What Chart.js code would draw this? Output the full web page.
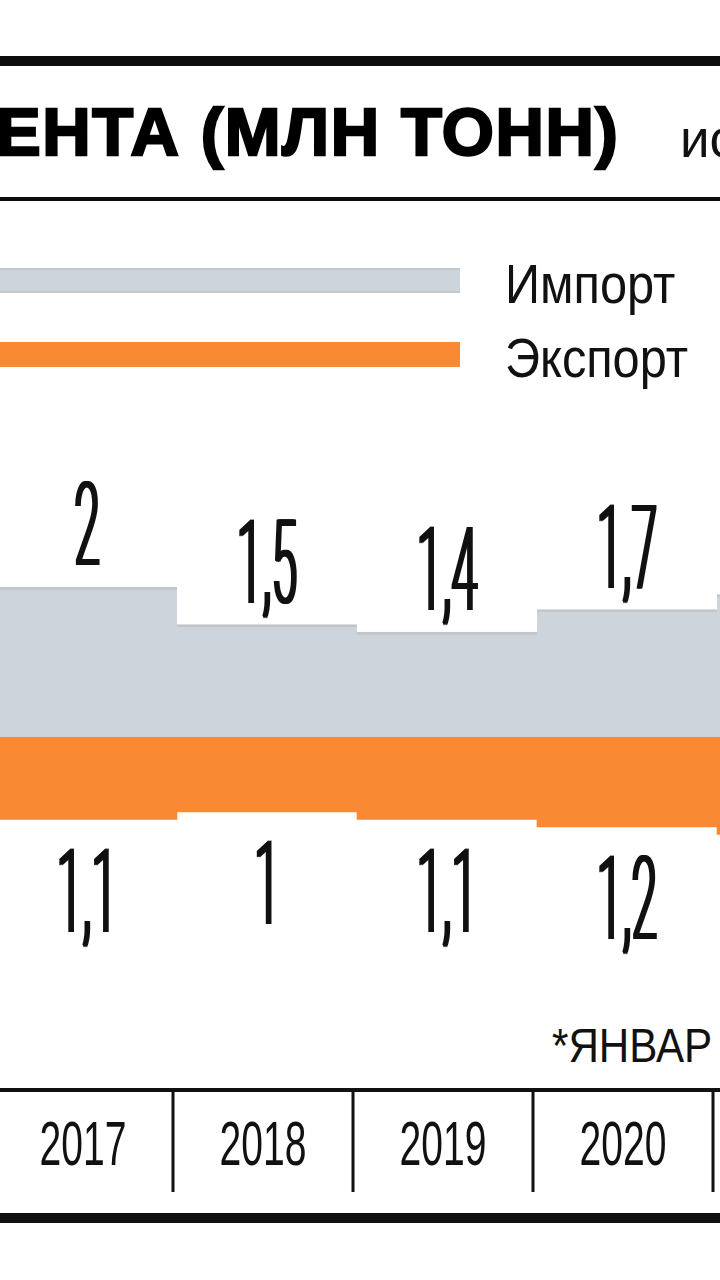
<!DOCTYPE html>
<html lang="ru">
<head>
<meta charset="UTF-8">
<title>Импорт и экспорт цемента</title>
<script src="https://cdn.jsdelivr.net/npm/chart.js"></script>
<style>
  html, body { margin: 0; padding: 0; background: #fff; }
  body {
    width: 720px; height: 1280px; position: relative; overflow: hidden;
    font-family: "Liberation Sans", Arial, sans-serif; color: #111;
  }
  .rule-thick { position: absolute; left: 0; top: 56px; width: 720px; height: 10px; background: #0d0d0d; }
  .rule-thin { position: absolute; left: 0; top: 197px; width: 720px; height: 4px; background: #0d0d0d; }
  .title {
    position: absolute; left: -4px; top: 98px; font-size: 67px; font-weight: bold;
    line-height: 1; white-space: nowrap; color: #000;
    -webkit-text-stroke: 2.4px #000; letter-spacing: 1.6px;
  }
  .source { position: absolute; left: 680px; top: 112px; font-size: 53px; line-height: 1; white-space: nowrap; }
  .legend-bar { position: absolute; left: 0; width: 460px; height: 25px; }
  .legend-label {
    position: absolute; left: 505px; font-size: 56px; line-height: 1;
    transform: scaleX(0.87); transform-origin: left top; white-space: nowrap;
  }
  .note {
    position: absolute; left: 552px; top: 1021px; font-size: 49px; line-height: 1;
    transform: scaleX(0.86); transform-origin: left top; white-space: nowrap;
  }
  #chartBox { position: absolute; left: -3px; top: 400px; width: 900px; height: 840px; }
</style>
</head>
<body>
  <div class="rule-thick"></div>
  <div class="title">ЕНТА (МЛН ТОНН)</div>
  <div class="source">ис</div>
  <div class="rule-thin"></div>
  <div id="legend"></div>
  <div class="note">*ЯНВАР</div>
  <div id="chartBox"><canvas id="cementChart" width="900" height="840"></canvas></div>

<script>
  const years = ['2017', '2018', '2019', '2020', '2021*'];
  const importVals = [2, 1.5, 1.4, 1.7, 1.9];
  const exportVals = [1.1, 1, 1.1, 1.2, 1.3];
  const seriesNames = ['Импорт', 'Экспорт'];
  const seriesColors = ['#cdd4db', '#f98a33'];

  // legend (HTML, long swatches like the print version)
  const legend = document.getElementById('legend');
  const legendTops = [268, 342];
  seriesNames.forEach((name, i) => {
    const bar = document.createElement('div');
    bar.className = 'legend-bar';
    bar.style.top = legendTops[i] + 'px';
    bar.style.background = seriesColors[i];
    if (i === 0) {
      bar.style.borderTop = '2px solid #c3c6cc';
      bar.style.borderBottom = '2px solid #c3c6cc';
      bar.style.height = '21px';
    }
    legend.appendChild(bar);
    const label = document.createElement('div');
    label.className = 'legend-label';
    label.style.top = (legendTops[i] - 12) + 'px';
    label.textContent = name;
    legend.appendChild(label);
  });

  // horizontally squeezed text; "smear" thickens the vertical stems a bit
  function condensed(ctx, text, cx, baseline, font, sx, smear) {
    for (let k = 0; k <= (smear || 0); k++) {
      ctx.save();
      ctx.translate(cx - (smear || 0) / 2 + k, baseline);
      ctx.scale(sx, 1);
      ctx.font = font;
      ctx.textAlign = 'center';
      ctx.textBaseline = 'alphabetic';
      ctx.fillText(text, 0, 0);
      ctx.restore();
    }
  }

  const fmt = v => String(v).replace('.', ',');
  const valueFont = '300 116px Roboto, "Liberation Sans", sans-serif';
  const yearFont = '63px "Liberation Sans", Arial, sans-serif';

  const decor = {
    id: 'decor',
    afterDatasetsDraw(chart) {
      const ctx = chart.ctx;
      const x = chart.scales.x;
      ctx.save();
      ctx.fillStyle = '#111';

      // value labels above import / below export
      chart.getDatasetMeta(0).data.forEach((bar, i) => {
        condensed(ctx, fmt(importVals[i]), bar.x, bar.y - 22, valueFont, 0.40, 3);
      });
      chart.getDatasetMeta(1).data.forEach((bar, i) => {
        condensed(ctx, fmt(exportVals[i]), bar.x, bar.y + 29 + 83, valueFont, 0.40, 3);
      });

      // year table at the bottom (printed grid sits a few px left of the bars)
      const shift = -4;
      const top = 688;
      ctx.fillRect(0, top, chart.width, 4);
      ctx.fillRect(0, 813, chart.width, 10);
      for (let i = 0; i < years.length - 1; i++) {
        const b = (x.getPixelForValue(i) + x.getPixelForValue(i + 1)) / 2 + shift;
        ctx.fillRect(b - 1.5, top + 4, 3, 100);
      }
      years.forEach((y, i) => condensed(ctx, y, x.getPixelForValue(i) + shift, 765, yearFont, 0.62, 0));
      ctx.restore();
    }
  };

  new Chart(document.getElementById('cementChart').getContext('2d'), {
    type: 'bar',
    data: {
      labels: years,
      datasets: [{
        label: seriesNames[0],
        data: importVals,
        backgroundColor: seriesColors[0],
        borderColor: '#c2c5c9',
        borderWidth: { top: 3, right: 0, bottom: 0, left: 0 },
        borderSkipped: false
      }, {
        label: seriesNames[1],
        data: exportVals.map(v => -v),
        backgroundColor: seriesColors[1],
        borderWidth: 0
      }]
    },
    options: {
      responsive: false,
      animation: false,
      layout: { padding: { top: 37, bottom: 278, left: 0, right: 0 } },
      datasets: { bar: { categoryPercentage: 1, barPercentage: 1 } },
      plugins: { legend: { display: false }, tooltip: { enabled: false } },
      scales: {
        x: { stacked: true, display: false },
        y: { stacked: true, display: false, min: -3, max: 4 }
      }
    },
    plugins: [decor]
  });
</script>
</body>
</html>
